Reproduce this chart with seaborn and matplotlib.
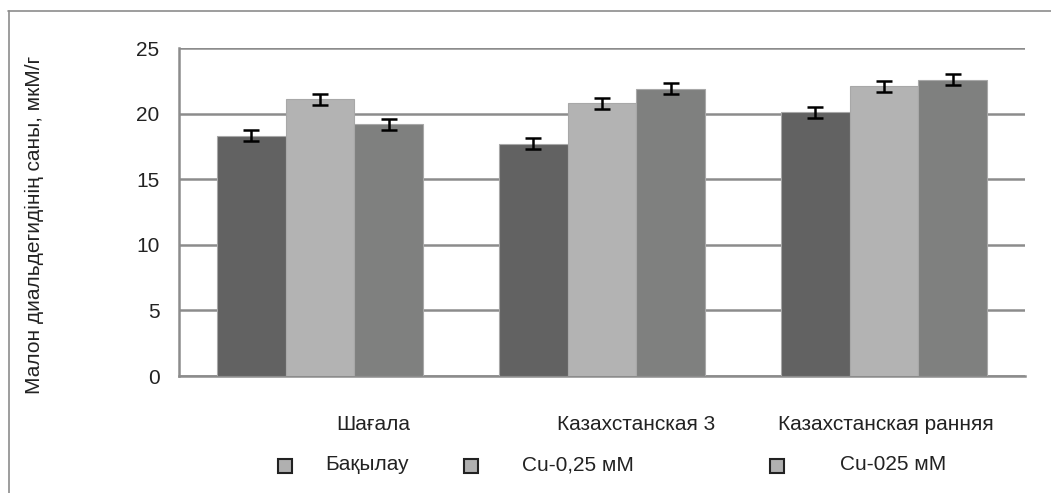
import numpy as np
import pandas as pd
import matplotlib.pyplot as plt
import matplotlib.patches as mpatches
from matplotlib.lines import Line2D
import seaborn as sns

# Data
sorts = ['Шағала', 'Казахстанская 3', 'Казахстанская ранняя']
groups = ['Бақылау', 'Cu-0,25 мМ', 'Cu-025 мМ']
control = [18.3, 17.7, 20.1]
cu_025 = [21.1, 20.8, 22.1]
cu_025b = [19.2, 21.9, 22.6]
err_control = [0.42, 0.42, 0.42]
err_cu_025 = [0.42, 0.42, 0.42]
err_cu_025b = [0.42, 0.42, 0.42]

colors = ['#626262', '#b3b3b3', '#7f807f']

df = pd.DataFrame({
    'sort': sorts * 3,
    'group': [g for g in groups for _ in sorts],
    'value': control + cu_025 + cu_025b,
})
errs = err_control + err_cu_025 + err_cu_025b

sns.set_style('white')
plt.rcParams['font.family'] = ['Liberation Sans', 'DejaVu Sans']

fig = plt.figure(figsize=(10.51, 4.93), dpi=100)
ax = fig.add_axes([0.1703, 0.2373, 0.805, 0.6653])

sns.barplot(data=df, x='sort', y='value', hue='group', order=sorts, hue_order=groups,
            palette=colors, width=0.73, gap=0, errorbar=None, legend=False,
            edgecolor='#a8a8a8', linewidth=0.8, ax=ax, zorder=3)

# error bars on the bar centres
bars = [p for p in ax.patches]
xs = [b.get_x() + b.get_width() / 2 for b in bars]
hs = [b.get_height() for b in bars]
ax.errorbar(xs, hs, yerr=errs, fmt='none', ecolor='black', elinewidth=1.8,
            capsize=5.5, capthick=1.8, zorder=4)

ax.set_ylim(0, 25)
ax.set_xlim(-0.5, 2.5)
ax.set_yticks([0, 5, 10, 15, 20, 25])
ax.set_yticklabels(['0', '5', '10', '15', '20', '25'], fontsize=15, color='#222222')
ax.yaxis.grid(True, color='#8c8c8c', linewidth=1.8, zorder=0)
ax.set_axisbelow(True)
ax.set_xticks([-0.5, 0.5, 1.5, 2.5])
ax.set_xticklabels([])
ax.tick_params(axis='both', direction='out', length=8, width=1.5, color='#8c8c8c', pad=6)
for s in ['top', 'right']:
    ax.spines[s].set_visible(False)
for s in ['left', 'bottom']:
    ax.spines[s].set_color('#8c8c8c')
    ax.spines[s].set_linewidth(1.8)
ax.set_xlabel('')
ax.set_ylabel('')
fig.text(34 / 1051, 1 - 225 / 493, 'Малон диальдегидінің саны, мкМ/г', rotation=90,
         ha='center', va='center', fontsize=15, color='#222222')

# category labels, placed as in the reference
label_x = [0.19, 1.12, 2.005]
for x, s in zip(label_x, sorts):
    ax.text(x, -0.148, s, transform=ax.get_xaxis_transform(), ha='center', va='center',
            fontsize=15, color='#222222')

# legend row (all markers the same grey in the reference)
marker_x = [284.5, 471, 777.5]
text_x = [325, 522, 840]
for mx, tx, g in zip(marker_x, text_x, groups):
    fig.patches.append(mpatches.Rectangle(((mx - 7) / 1051, 1 - 473 / 493), 14 / 1051, 14 / 493,
                                          transform=fig.transFigure, facecolor='#b0b0b0',
                                          edgecolor='#222222', linewidth=1.5))
    fig.text(tx / 1051, 1 - 465 / 493, g, ha='left', va='center', fontsize=15, color='#222222')

# outer frame: only top and left edges are visible
fig.lines.append(Line2D([8 / 1051, 1], [1 - 10.5 / 493] * 2, transform=fig.transFigure,
                        color='#8c8c8c', linewidth=1.2))
fig.lines.append(Line2D([8.5 / 1051] * 2, [0, 1 - 10.5 / 493], transform=fig.transFigure,
                        color='#8c8c8c', linewidth=1.2))

fig.savefig('out.png', dpi=100)
